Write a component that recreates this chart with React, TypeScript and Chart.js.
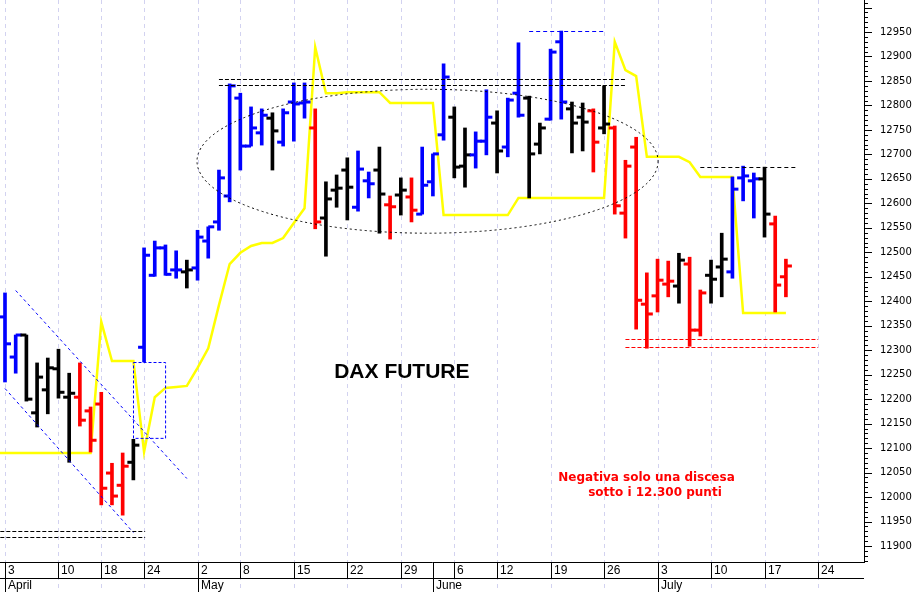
import { useEffect, useRef } from 'react';
import { Chart, registerables } from 'chart.js';

Chart.register(...registerables);

// ---- DATA (index 0 = 3 April 2017, one index per trading day) ----
const tones = [
  'B','B','K','K','K','K','K','R','R','R','R','R','K',
  'B','B','B','B','K','B','B','B','B','B','B','B','K','B','B','B','R',
  'K','K','K','B','B','K','R','K','R','B','B','B','K','K','B','B','K',
  'B','B','K','K','B','B','K','K','R','K','R','R','R','R','R','R','K',
  'R','R','K','K','B','B','B','K','R','R',
];
const opens = [
  12368,12286,12331,12172,12219,12262,12204,12204,12176,12190,12049,12024,12071,
  12306,12453,12509,12464,12460,12468,12523,12562,12615,12815,12717,12744,12774,12725,12807,12805,12754,
  12570,12627,12668,12592,12646,12668,12597,12617,12613,12578,12644,12740,12776,12676,12699,12727,12764,
  12715,12825,12815,12721,12772,12930,12793,12776,12789,12754,12754,12580,12715,12394,12411,12435,12431,
  12476,12341,12453,12470,12460,12652,12646,12650,12558,12450,
];
const highs = [
  12417,12331,12331,12274,12284,12302,12253,12274,12184,12214,12069,12090,12118,
  12509,12523,12515,12503,12484,12545,12552,12668,12844,12825,12797,12793,12785,12793,12846,12846,12793,
  12644,12658,12693,12707,12664,12715,12615,12652,12652,12715,12701,12885,12797,12754,12746,12832,12789,
  12815,12928,12819,12764,12915,12952,12807,12805,12793,12840,12758,12688,12735,12458,12486,12482,12498,
  12490,12423,12484,12539,12654,12676,12662,12674,12574,12486,
];
const lows = [
  12235,12253,12196,12143,12170,12202,12071,12145,12092,11984,11984,11963,12035,
  12276,12451,12453,12447,12427,12443,12488,12545,12603,12668,12717,12719,12668,12717,12727,12774,12548,
  12492,12592,12566,12584,12611,12539,12527,12576,12562,12578,12615,12729,12652,12633,12672,12699,12662,
  12695,12776,12611,12701,12770,12772,12703,12707,12664,12742,12578,12529,12343,12304,12378,12409,12396,
  12308,12329,12396,12409,12447,12605,12570,12531,12378,12409,
];
const closes = [
  12313,12331,12200,12245,12264,12214,12212,12157,12116,12018,12002,12063,12106,
  12494,12509,12455,12464,12464,12531,12552,12652,12840,12717,12754,12780,12748,12785,12803,12807,12562,
  12609,12631,12633,12670,12640,12619,12593,12627,12586,12637,12701,12858,12674,12699,12727,12776,12707,
  12811,12780,12701,12754,12909,12807,12764,12766,12725,12762,12595,12676,12402,12374,12443,12441,12484,
  12341,12417,12445,12486,12629,12656,12650,12578,12433,12472,
];
// yellow indicator, first value belongs to index -1 (31 March)
const yellowStart = -1;
const yellow = [
  12090,12090,12090,12090,12090,12090,12090,12090,12090,12090,12358,12278,12278,12278,
  12092,12204,12223,12225,12227,12264,12304,12392,12476,12499,12513,12519,12519,12529,12560,12590,
  12919,12825,12825,12827,12827,12827,12827,12805,12805,12805,12805,12805,
  12576,12576,12576,12576,12576,12576,12576,
  12611,12611,12611,12611,12611,12611,12611,12611,12611,
  12930,12872,12860,12695,12695,12695,12695,12684,12654,12654,12654,12654,
  12376,12376,12376,12376,12376,
];

// axis labels
const weekIdx = [0, 5, 9, 13, 18, 22, 27, 32, 37, 42, 46, 51, 56, 61, 66, 71, 76];
const weekLabels = ['3','10','18','24','2','8','15','22','29','6','12','19','26','3','10','17','24'];
const monthIdx = [0, 18, 40, 61];
const monthLabels = ['April', 'May', 'June', 'July'];
const yTickLabels = [11900,11950,12000,12050,12100,12150,12200,12250,12300,12350,12400,12450,12500,12550,12600,12650,12700,12750,12800,12850,12900,12950];

// annotations (index, value)
const resistanceBand = [12854, 12842];
const supportBand = [11931, 11918];
const redBand = [12323, 12306];
const juneHigh = 12952;
const julyHigh = 12674;
const channelUpper = [[1, 12423], [17, 12039]];
const channelLower = [[0, 12223], [12, 11928]];
const breakoutBox = [12, 15, 12276, 12121];
const rangeEllipse = [39.5, 12686, 21.55, 147];
const titleText = 'DAX FUTURE';
const noteLines = ['Negativa solo una discesa', 'sotto i 12.300 punti'];

const toneColor: Record<string, string> = { B: '#0000ff', K: '#000000', R: '#ff0000' };
const X_MIN = -0.467, X_MAX = 80.3, Y_MIN = 11867.3, Y_MAX = 13015.4;
const TICK_OFF = 0.28;

const overlay = {
  id: 'overlay',
  beforeDatasetsDraw(chart: any) {
    const { ctx, chartArea: a, scales: { x } } = chart;
    ctx.save();
    ctx.strokeStyle = '#d2d2f0';
    ctx.lineWidth = 1;
    ctx.setLineDash([4, 4]);
    for (const i of weekIdx) {
      const px = Math.round(x.getPixelForValue(i)) + 0.5;
      ctx.beginPath();
      ctx.moveTo(px, a.top);
      ctx.lineTo(px, chart.height);
      ctx.stroke();
    }
    ctx.restore();
  },
  afterDatasetsDraw(chart: any) {
    const { ctx, chartArea: a, scales: { x, y } } = chart;
    const X = (v: number) => x.getPixelForValue(v);
    const Y = (v: number) => y.getPixelForValue(v);
    const seg = (x0: number, v0: number, x1: number, v1: number) => {
      ctx.beginPath();
      ctx.moveTo(X(x0), Math.round(Y(v0)) + 0.5);
      ctx.lineTo(X(x1), Math.round(Y(v1)) + 0.5);
      ctx.stroke();
    };
    ctx.save();
    ctx.beginPath();
    ctx.rect(a.left, a.top, a.right - a.left, a.bottom - a.top);
    ctx.clip();
    ctx.lineWidth = 1;

    ctx.strokeStyle = '#000';
    ctx.setLineDash([4, 2]);
    resistanceBand.forEach((v) => seg(20, v, 58, v));
    supportBand.forEach((v) => seg(-1, v, 13.1, v));
    ctx.setLineDash([4, 3]);
    seg(65, julyHigh, 74, julyHigh);

    ctx.strokeStyle = '#ff0000';
    ctx.setLineDash([4, 2]);
    redBand.forEach((v) => seg(58, v, 76, v));

    ctx.strokeStyle = '#0000ff';
    ctx.setLineDash([4, 3]);
    seg(49, juneHigh, 56, juneHigh);
    ctx.setLineDash([3, 3]);
    seg(channelUpper[0][0], channelUpper[0][1], channelUpper[1][0], channelUpper[1][1]);
    seg(channelLower[0][0], channelLower[0][1], channelLower[1][0], channelLower[1][1]);
    ctx.setLineDash([3, 2]);
    const [b0, b1, bt, bb] = breakoutBox;
    ctx.strokeRect(Math.round(X(b0)) + 0.5, Math.round(Y(bt)) + 0.5, X(b1) - X(b0), Y(bb) - Y(bt));

    ctx.strokeStyle = '#000';
    ctx.setLineDash([2, 3]);
    const [ec, ev, ew, eh] = rangeEllipse;
    const cx = X(ec), cy = Y(ev);
    ctx.beginPath();
    ctx.ellipse(cx, cy, X(ec + ew) - cx, Y(ev - eh) - cy, 0, 0, Math.PI * 2);
    ctx.stroke();

    ctx.setLineDash([]);
    ctx.textAlign = 'center';
    ctx.textBaseline = 'alphabetic';
    ctx.fillStyle = '#000';
    ctx.font = 'bold 21px "Liberation Sans", Arial, sans-serif';
    ctx.fillText(titleText, X(37.1), Y(12243));
    ctx.fillStyle = '#ff0000';
    ctx.font = 'bold 12px "DejaVu Sans", Verdana, sans-serif';
    ctx.fillText(noteLines[0], X(59.97), Y(12033));
    ctx.fillText(noteLines[1], X(60.76), Y(12002));
    ctx.restore();
  },
  afterDraw(chart: any) {
    const { ctx, chartArea: a, scales: { x, y } } = chart;
    ctx.save();
    ctx.strokeStyle = '#000';
    ctx.lineWidth = 1;
    ctx.setLineDash([]);
    // y minor / major tick marks
    for (let v = 11870; v <= 13010; v += 10) {
      const py = Math.round(y.getPixelForValue(v)) + 0.5;
      ctx.beginPath();
      ctx.moveTo(a.right, py);
      ctx.lineTo(a.right + (v % 50 === 0 ? 8 : 4), py);
      ctx.stroke();
    }
    // date rows
    const top = a.bottom, mid = a.bottom + 16, bot = chart.height;
    ctx.beginPath();
    ctx.moveTo(a.left, mid + 0.5);
    ctx.lineTo(a.right, mid + 0.5);
    ctx.stroke();
    const seps = Array.from(new Set([...weekIdx, ...monthIdx]));
    for (const i of seps) {
      const px = Math.round(x.getPixelForValue(i)) + 0.5;
      ctx.beginPath();
      ctx.moveTo(px, top);
      ctx.lineTo(px, mid);
      ctx.stroke();
    }
    for (const i of monthIdx) {
      const px = Math.round(x.getPixelForValue(i)) + 0.5;
      ctx.beginPath();
      ctx.moveTo(px, mid);
      ctx.lineTo(px, bot);
      ctx.stroke();
    }
    ctx.fillStyle = '#000';
    ctx.font = '12px "Liberation Sans", Arial, sans-serif';
    ctx.textAlign = 'left';
    ctx.textBaseline = 'middle';
    weekIdx.forEach((i, k) => ctx.fillText(weekLabels[k], Math.round(x.getPixelForValue(i)) + 3, top + 8.5));
    monthIdx.forEach((i, k) => ctx.fillText(monthLabels[k], Math.round(x.getPixelForValue(i)) + 3, mid + 8));
    ctx.restore();
  },
};

export default function App() {
  const ref = useRef<HTMLCanvasElement>(null);
  useEffect(() => {
    document.body.style.margin = '0';
    const idx = opens.map((_, i) => i);
    const colors = tones.map((t) => toneColor[t]);
    const chart = new Chart(ref.current as HTMLCanvasElement, {
      type: 'bar',
      data: {
        datasets: [
          {
            type: 'scatter',
            data: idx.map((i) => ({ x: i - TICK_OFF, y: opens[i] })),
            pointStyle: 'line',
            pointRadius: 3,
            pointHoverRadius: 3,
            pointBorderWidth: 3,
            pointBorderColor: colors,
            pointBackgroundColor: colors,
            order: 0,
          } as any,
          {
            type: 'scatter',
            data: idx.map((i) => ({ x: i + TICK_OFF, y: closes[i] })),
            pointStyle: 'line',
            pointRadius: 3,
            pointHoverRadius: 3,
            pointBorderWidth: 3,
            pointBorderColor: colors,
            pointBackgroundColor: colors,
            order: 0,
          } as any,
          {
            type: 'bar',
            data: idx.map((i) => ({ x: i, y: [lows[i], highs[i]] })),
            backgroundColor: colors,
            borderWidth: 0,
            barThickness: 3,
            order: 1,
          } as any,
          {
            type: 'line',
            data: yellow.map((v, k) => ({ x: k + yellowStart, y: v })),
            borderColor: '#ffff00',
            borderWidth: 2.5,
            pointRadius: 0,
            tension: 0,
            fill: false,
            order: 5,
          } as any,
        ],
      },
      options: {
        animation: false,
        responsive: false,
        devicePixelRatio: 1,
        layout: { padding: 0, autoPadding: false },
        plugins: { legend: { display: false }, tooltip: { enabled: false } },
        scales: {
          x: {
            type: 'linear',
            min: X_MIN,
            max: X_MAX,
            offset: false,
            grid: { display: false, drawTicks: false },
            ticks: { display: false },
            border: { display: true, color: '#000', width: 1 },
            afterFit: (s: any) => { s.height = 30; s.paddingLeft = 0; s.paddingRight = 0; },
          },
          y: {
            type: 'linear',
            position: 'right',
            min: Y_MIN,
            max: Y_MAX,
            grid: { display: false, drawTicks: false },
            border: { display: true, color: '#000', width: 1 },
            ticks: {
              padding: 16,
              color: '#000',
              autoSkip: false,
              font: { family: '"DejaVu Sans", Verdana, sans-serif', size: 10 },
              callback: (v: any) => String(v),
            },
            afterBuildTicks: (s: any) => { s.ticks = yTickLabels.map((v) => ({ value: v })); },
            afterFit: (s: any) => { s.width = 52; s.paddingTop = 0; s.paddingBottom = 0; },
          },
        },
      } as any,
      plugins: [overlay],
    });
    return () => chart.destroy();
  }, []);
  return (
    <div style={{ width: 916, height: 592, background: '#fff' }}>
      <canvas ref={ref} width={916} height={592} style={{ display: 'block', width: 916, height: 592 }} />
    </div>
  );
}
